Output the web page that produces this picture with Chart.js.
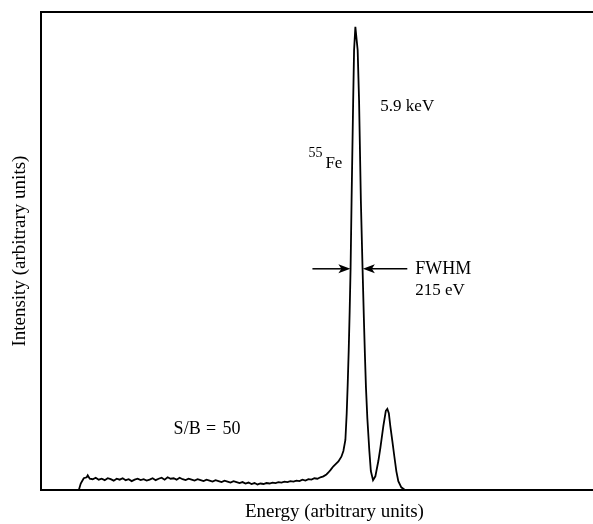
<html>
    <head>
        <meta charset="utf-8">
        <title>55Fe spectrum</title>
        <script src="https://cdn.jsdelivr.net/npm/chart.js@4.4.0/dist/chart.umd.min.js"></script>
        <style type="text/css">
            body {
                margin: 0;
                background: #ffffff;
                overflow: hidden;
            }
            /* the original figure is cropped on the right, so the plot runs past the window edge */
            #wrap {
                width: 593px;
                height: 524px;
                overflow: hidden;
            }
        </style>
    </head>
    <body>
        <div id="wrap">
            <canvas id="spectrumChart" width="628" height="524"></canvas>
        </div>
        <script>
            // channel (arbitrary energy units) and counts (arbitrary intensity units)
            var channel = [
                38, 40, 43, 46, 47, 49, 52, 55, 58, 61, 64, 67, 70, 73, 76, 79, 82, 85, 88, 91,
                94, 97, 100, 103, 106, 109, 112, 115, 118, 121, 124, 127, 130, 133, 136, 139, 142, 145, 148, 151,
                154, 157, 160, 163, 166, 169, 172, 175, 178, 181, 184, 187, 190, 193, 196, 199, 202, 205, 208, 211,
                214, 217, 220, 223, 226, 229, 232, 235, 238, 241, 244, 247, 250, 253, 256, 259, 262, 265, 268, 271,
                274, 277, 280, 283, 286, 288, 290, 293, 296, 298, 301, 303, 305, 306.3, 307.3, 308.3, 309.3, 310.2, 311.2, 312.8,
                313.7, 315, 317.3, 318.7, 320.5, 322.2, 323.5, 324.6, 325.6, 327, 329, 330.5, 332.7, 335, 338, 340, 343, 345.5, 347, 348.5,
                350, 352, 354, 356, 358, 361, 365
            ];
            var counts = [
                0, 14, 25, 27, 31, 24, 23, 26, 22, 24, 21, 25, 23, 20, 24, 22, 25, 21, 23, 19,
                22, 24, 21, 23, 20, 22, 25, 21, 24, 26, 22, 27, 24, 25, 22, 26, 23, 21, 24, 22,
                20, 23, 21, 19, 22, 20, 18, 21, 19, 17, 20, 18, 16, 19, 17, 15, 17, 14, 16, 13,
                15, 12, 14, 13, 15, 14, 16, 15, 17, 16, 18, 17, 19, 18, 20, 19, 22, 20, 23, 22,
                25, 24, 27, 29, 33, 37, 42, 50, 56, 60, 70, 82, 105, 160, 220, 290, 375, 463, 606, 815,
                920, 969, 920, 815, 606, 463, 360, 280, 215, 150, 82, 40, 21, 29, 61, 88, 134, 166, 170, 161,
                134, 103, 71, 40, 19, 6, 0
            ];

            var xMax = 588;
            var yMax = 1000;
            var serif = "'Liberation Serif', 'Times New Roman', serif";

            var points = channel.map(function(c, i) {
                return {x: c, y: counts[i]};
            });

            function arrow(ctx, x0, x1, y) {
                // line from x0 to tip at x1
                var dir = x1 > x0 ? 1 : -1;
                ctx.beginPath();
                ctx.moveTo(x0, y);
                ctx.lineTo(x1 - dir * 8, y);
                ctx.stroke();
                ctx.beginPath();
                ctx.moveTo(x1, y);
                ctx.lineTo(x1 - dir * 12, y - 4.5);
                ctx.lineTo(x1 - dir * 9, y);
                ctx.lineTo(x1 - dir * 12, y + 4.5);
                ctx.closePath();
                ctx.fill();
            }

            var labelsPlugin = {
                id: 'labels',
                afterDatasetsDraw: function(chart) {
                    var ctx = chart.ctx;
                    var xs = chart.scales.x;
                    var ys = chart.scales.y;
                    ctx.save();
                    ctx.fillStyle = '#000';
                    ctx.strokeStyle = '#000';
                    ctx.lineWidth = 1.5;
                    ctx.textAlign = 'left';
                    ctx.textBaseline = 'middle';

                    ctx.font = '17px ' + serif;
                    ctx.fillText('5.9 keV', xs.getPixelForValue(340), ys.getPixelForValue(803));
                    ctx.fillText('Fe', xs.getPixelForValue(285), ys.getPixelForValue(683));
                    ctx.fillText('215 eV', xs.getPixelForValue(375), ys.getPixelForValue(417));
                    ctx.font = '18px ' + serif;
                    ctx.fillText('FWHM', xs.getPixelForValue(375), ys.getPixelForValue(463));
                    ctx.fillText('S/B', xs.getPixelForValue(133), ys.getPixelForValue(128));
                    ctx.fillText('=', xs.getPixelForValue(165.5), ys.getPixelForValue(128));
                    ctx.fillText('50', xs.getPixelForValue(182), ys.getPixelForValue(128));
                    ctx.font = '14px ' + serif;
                    ctx.fillText('55', xs.getPixelForValue(268), ys.getPixelForValue(704));

                    // FWHM arrows
                    var yh = ys.getPixelForValue(463);
                    arrow(ctx, xs.getPixelForValue(272), xs.getPixelForValue(310), yh);
                    arrow(ctx, xs.getPixelForValue(367), xs.getPixelForValue(322.5), yh);
                    ctx.restore();
                }
            };

            var ctx = document.getElementById('spectrumChart').getContext('2d');
            var spectrumChart = new Chart(ctx, {
                type: 'line',
                data: {
                    datasets: [{
                        label: '55Fe',
                        data: points,
                        borderColor: '#000',
                        borderWidth: 1.8,
                        pointRadius: 0,
                        tension: 0,
                        fill: false
                    }]
                },
                options: {
                    responsive: false,
                    animation: false,
                    layout: {
                        padding: {left: 0, top: 12, right: 0, bottom: 0}
                    },
                    plugins: {
                        legend: {display: false},
                        tooltip: {enabled: false}
                    },
                    scales: {
                        x: {
                            type: 'linear',
                            position: 'bottom',
                            min: 0,
                            max: xMax,
                            ticks: {display: false},
                            grid: {display: false, drawTicks: false},
                            border: {display: true, color: '#000', width: 2},
                            title: {
                                display: true,
                                text: 'Energy (arbitrary units)',
                                color: '#000',
                                font: {family: serif, size: 19},
                                padding: {top: 10, bottom: 1}
                            }
                        },
                        xTop: {
                            type: 'linear',
                            position: 'top',
                            min: 0,
                            max: xMax,
                            ticks: {display: false},
                            grid: {display: false, drawTicks: false},
                            border: {display: true, color: '#000', width: 2}
                        },
                        y: {
                            type: 'linear',
                            min: 0,
                            max: yMax,
                            ticks: {display: false},
                            grid: {display: false, drawTicks: false},
                            border: {display: true, color: '#000', width: 2},
                            title: {
                                display: true,
                                text: 'Intensity (arbitrary units)',
                                color: '#000',
                                font: {family: serif, size: 19},
                                padding: {top: 9, bottom: 9}
                            }
                        }
                    }
                },
                plugins: [labelsPlugin]
            });
        </script>
    </body>
</html>
